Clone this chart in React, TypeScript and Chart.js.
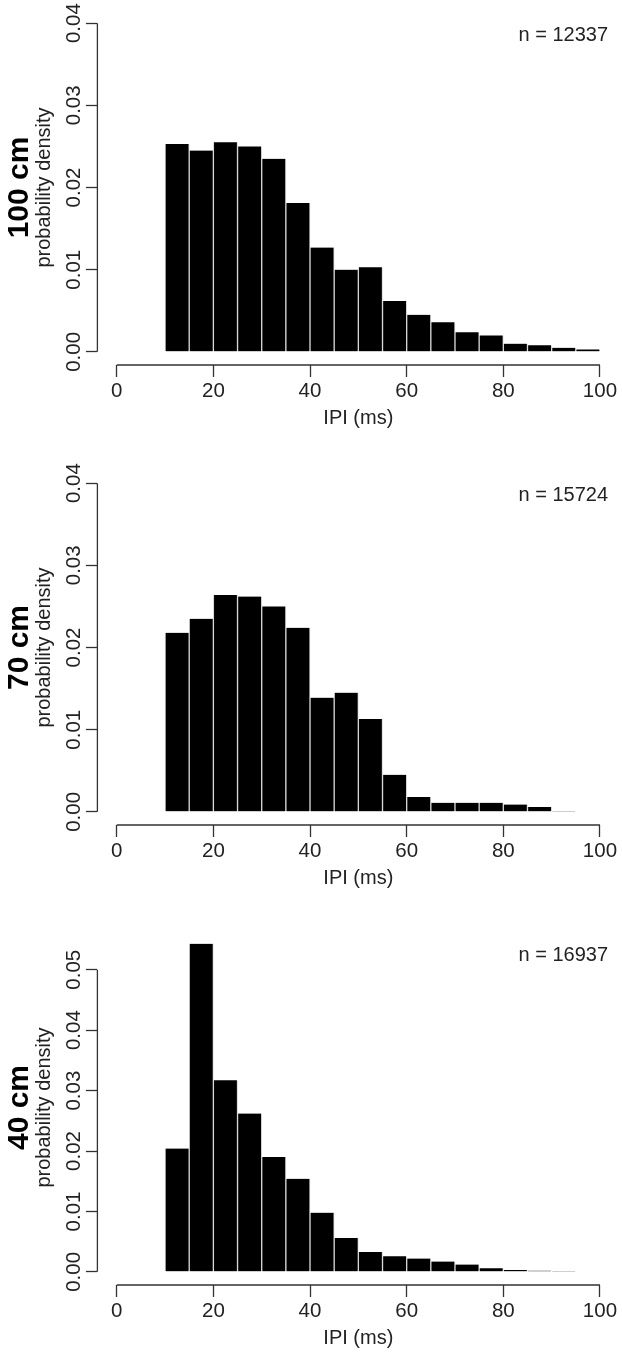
import React, { useEffect, useRef } from 'react';
import { Chart, registerables } from 'chart.js';

Chart.register(...registerables);

// ---- data ----
const binEdges100 = [10, 15, 20, 25, 30, 35, 40, 45, 50, 55, 60, 65, 70, 75, 80, 85, 90, 95, 100];
const density100 = [0.0253, 0.0245, 0.0255, 0.025, 0.0235, 0.0181, 0.0127, 0.01, 0.0103, 0.0062, 0.0045, 0.0036, 0.0024, 0.002, 0.001, 0.0008, 0.0005, 0.0003];

const binEdges70 = [10, 15, 20, 25, 30, 35, 40, 45, 50, 55, 60, 65, 70, 75, 80, 85, 90, 95];
const density70 = [0.0218, 0.0235, 0.0264, 0.0262, 0.025, 0.0224, 0.0139, 0.0145, 0.0113, 0.0045, 0.0018, 0.0011, 0.0011, 0.0011, 0.0009, 0.0006, 0.0001];

const binEdges40 = [10, 15, 20, 25, 30, 35, 40, 45, 50, 55, 60, 65, 70, 75, 80, 85, 90, 95];
const density40 = [0.0204, 0.0543, 0.0317, 0.0262, 0.019, 0.0154, 0.0098, 0.0056, 0.0033, 0.0026, 0.0022, 0.0017, 0.0012, 0.0006, 0.0003, 0.0002, 0.00013];

const xTicks = [0, 20, 40, 60, 80, 100];
const xTickLabels = ['0', '20', '40', '60', '80', '100'];
const yTicks4 = [0, 0.01, 0.02, 0.03, 0.04];
const yTickLabels4 = ['0.00', '0.01', '0.02', '0.03', '0.04'];
const yTicks5 = [0, 0.01, 0.02, 0.03, 0.04, 0.05];
const yTickLabels5 = ['0.00', '0.01', '0.02', '0.03', '0.04', '0.05'];

const panelLabels = ['100 cm', '70 cm', '40 cm'];
const countLabels = ['n = 12337', 'n = 15724', 'n = 16937'];
const yLimTops = [0.04, 0.04, 0.0544];
const xLim = [0, 100];
const xTitle = 'IPI (ms)';
const yTitle = 'probability density';

const FONT = "'Liberation Sans', Arial, Helvetica, sans-serif";
const TEXT = '#222';
const AXIS = '#333';

type PanelProps = {
  label: string;
  count: string;
  edges: number[];
  values: number[];
  yTicks: number[];
  yTickLabels: string[];
  yTop: number;
  height: number;
};

function Panel(props: PanelProps) {
  const ref = useRef<HTMLCanvasElement>(null);

  useEffect(() => {
    const { label, count, edges, values, yTicks, yTickLabels, yTop, height } = props;
    const data = values.map((v, i) => ({ x: (edges[i] + edges[i + 1]) / 2, y: v }));

    const textPlugin = {
      id: 'rtext',
      afterDraw(chart: any) {
        const ctx = chart.ctx as CanvasRenderingContext2D;
        const xs = chart.scales.x;
        const ys = chart.scales.y;
        const area = chart.chartArea;
        ctx.save();
        // axis lines (only across the tick range, like R)
        ctx.strokeStyle = AXIS;
        ctx.lineWidth = 1.3;
        ctx.beginPath();
        ctx.moveTo(area.left, ys.getPixelForValue(yTicks[0]));
        ctx.lineTo(area.left, ys.getPixelForValue(yTicks[yTicks.length - 1]));
        ctx.moveTo(xs.getPixelForValue(xTicks[0]), area.bottom);
        ctx.lineTo(xs.getPixelForValue(xTicks[xTicks.length - 1]), area.bottom);
        ctx.stroke();

        ctx.fillStyle = TEXT;
        // y tick labels, rotated
        ctx.font = `20.5px ${FONT}`;
        ctx.textAlign = 'center';
        ctx.textBaseline = 'alphabetic';
        yTicks.forEach((v, i) => {
          ctx.save();
          ctx.translate(80, ys.getPixelForValue(v));
          ctx.rotate(-Math.PI / 2);
          ctx.fillText(yTickLabels[i], 0, 0);
          ctx.restore();
        });
        const midY = (area.top + area.bottom) / 2;
        // y title
        ctx.save();
        ctx.font = `20px ${FONT}`;
        ctx.translate(50, midY);
        ctx.rotate(-Math.PI / 2);
        ctx.fillText(yTitle, 0, 0);
        ctx.restore();
        // panel label
        ctx.save();
        ctx.font = `bold 30px ${FONT}`;
        ctx.fillStyle = '#000';
        ctx.translate(28, midY);
        ctx.rotate(-Math.PI / 2);
        ctx.fillText(label, 0, 0);
        ctx.restore();
        // x tick labels
        xTicks.forEach((v, i) => {
          ctx.fillText(xTickLabels[i], xs.getPixelForValue(v), 397);
        });
        // x title
        ctx.font = `20px ${FONT}`;
        ctx.fillText(xTitle, (area.left + area.right) / 2, 424);
        // count text
        ctx.textAlign = 'right';
        ctx.fillText(count, 608, 41);
        ctx.restore();
      },
    };

    const chart = new Chart(ref.current as HTMLCanvasElement, {
      type: 'bar',
      data: {
        datasets: [
          {
            data,
            backgroundColor: '#000',
            borderColor: '#d6d6d6',
            borderWidth: { left: 1, right: 1, top: 0, bottom: 0 },
            borderSkipped: false,
            barPercentage: 1,
            categoryPercentage: 1,
          } as any,
        ],
      },
      options: {
        animation: false,
        responsive: false,
        devicePixelRatio: 1,
        layout: { padding: { top: 10, left: 0, right: 2.7, bottom: 0 } },
        plugins: { legend: { display: false }, tooltip: { enabled: false } },
        scales: {
          x: {
            type: 'linear',
            min: xLim[0] - 0.04 * (xLim[1] - xLim[0]),
            max: xLim[1] + 0.04 * (xLim[1] - xLim[0]),
            offset: false,
            afterBuildTicks: (s: any) => {
              s.ticks = xTicks.map((v) => ({ value: v }));
            },
            afterFit: (s: any) => {
              s.height = height - 365;
            },
            grid: {
              display: true,
              offset: false,
              drawOnChartArea: false,
              drawTicks: true,
              tickLength: 12,
              tickColor: AXIS,
              tickWidth: 1.3,
            },
            border: { display: false },
            ticks: { display: false },
          },
          y: {
            type: 'linear',
            min: -0.04 * yTop,
            max: 1.04 * yTop,
            afterBuildTicks: (s: any) => {
              s.ticks = yTicks.map((v) => ({ value: v }));
            },
            afterFit: (s: any) => {
              s.width = 97.4;
            },
            grid: {
              display: true,
              drawOnChartArea: false,
              drawTicks: true,
              tickLength: 11.5,
              tickColor: AXIS,
              tickWidth: 1.3,
            },
            border: { display: false },
            ticks: { display: false },
          },
        },
      } as any,
      plugins: [textPlugin],
    });
    return () => chart.destroy();
  }, []);

  return (
    <div style={{ width: 622, height: props.height }}>
      <canvas ref={ref} width={622} height={props.height} style={{ display: 'block' }} />
    </div>
  );
}

export default function App() {
  useEffect(() => {
    document.body.style.margin = '0';
    document.body.style.background = '#fff';
  }, []);
  return (
    <div style={{ width: 622, height: 1354, background: '#fff' }}>
      <Panel label={panelLabels[0]} count={countLabels[0]} edges={binEdges100} values={density100} yTicks={yTicks4} yTickLabels={yTickLabels4} yTop={yLimTops[0]} height={460} />
      <Panel label={panelLabels[1]} count={countLabels[1]} edges={binEdges70} values={density70} yTicks={yTicks4} yTickLabels={yTickLabels4} yTop={yLimTops[1]} height={460} />
      <Panel label={panelLabels[2]} count={countLabels[2]} edges={binEdges40} values={density40} yTicks={yTicks5} yTickLabels={yTickLabels5} yTop={yLimTops[2]} height={434} />
    </div>
  );
}
